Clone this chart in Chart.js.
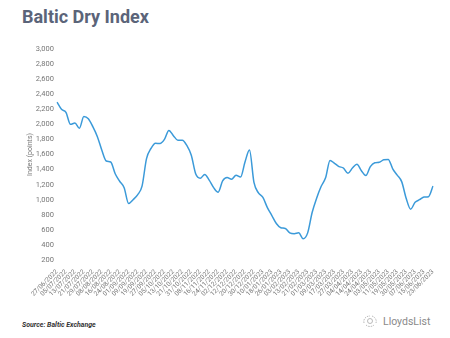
<!DOCTYPE html>
<html>
<head>
<meta charset="utf-8">
<script src="https://cdn.jsdelivr.net/npm/chart.js@4.4.0/dist/chart.umd.min.js"></script>
<style>
  body { margin: 0; width: 450px; height: 338px; background: #fff; position: relative; overflow: hidden; font-family: Roboto, sans-serif; }
  #title { position: absolute; left: 22px; top: 8px; font-size: 18px; line-height: 18px; font-weight: bold; color: #5b6479; }
  #wrap { position: absolute; left: 0; top: 40px; width: 450px; height: 270px; }
  #source { position: absolute; left: 22px; top: 321px; font-size: 7px; line-height: 8px; font-style: italic; font-weight: bold; color: #333; }
  #logo { position: absolute; left: 362px; top: 313px; height: 16px; display: flex; align-items: center; color: #8a8a8a; font-size: 10.5px; }
  #logo svg { margin-right: 5px; }
</style>
</head>
<body>
<div id="title">Baltic Dry Index</div>
<div id="wrap"><canvas id="myChart"></canvas></div>
<div id="source">Source: Baltic Exchange</div>
<div id="logo">
  <svg width="16" height="14" viewBox="0 0 16 14"><path d="M2 9 C1 5 4 2 8 2 M10 2 C13 3 15 6 14 9 M4 11 C6 13 10 13 12 11" fill="none" stroke="#aaa" stroke-width="0.8" stroke-dasharray="1.5 1"/><circle cx="8" cy="7" r="2.5" fill="none" stroke="#aaa" stroke-width="0.8"/></svg>
  <span>LloydsList</span>
</div>
<script>
// sampled every third trading day
var dates = ['27/06/2022', '30/06/2022', '05/07/2022', '08/07/2022', '13/07/2022', '18/07/2022', '21/07/2022', '26/07/2022', '29/07/2022', '03/08/2022',
  '08/08/2022', '11/08/2022', '16/08/2022', '19/08/2022', '24/08/2022', '29/08/2022', '01/09/2022', '06/09/2022', '09/09/2022', '14/09/2022',
  '19/09/2022', '22/09/2022', '27/09/2022', '30/09/2022', '05/10/2022', '10/10/2022', '13/10/2022', '18/10/2022', '21/10/2022', '26/10/2022',
  '31/10/2022', '03/11/2022', '08/11/2022', '11/11/2022', '16/11/2022', '21/11/2022', '24/11/2022', '29/11/2022', '02/12/2022', '07/12/2022',
  '12/12/2022', '15/12/2022', '20/12/2022', '23/12/2022', '30/12/2022', '05/01/2023', '10/01/2023', '13/01/2023', '18/01/2023', '23/01/2023',
  '26/01/2023', '31/01/2023', '03/02/2023', '08/02/2023', '13/02/2023', '16/02/2023', '21/02/2023', '24/02/2023', '01/03/2023', '06/03/2023',
  '09/03/2023', '14/03/2023', '17/03/2023', '22/03/2023', '27/03/2023', '30/03/2023', '04/04/2023', '11/04/2023', '14/04/2023', '19/04/2023',
  '24/04/2023', '27/04/2023', '03/05/2023', '08/05/2023', '11/05/2023', '16/05/2023', '19/05/2023', '24/05/2023', '30/05/2023', '02/06/2023',
  '07/06/2023', '12/06/2023', '15/06/2023', '20/06/2023', '23/06/2023'];

var bdi = [2295, 2200, 2160, 2000, 2017, 1948, 2105, 2075, 1970, 1840,
  1660, 1514, 1500, 1345, 1245, 1160, 950, 1000, 1065, 1180,
  1545, 1680, 1750, 1745, 1800, 1920, 1850, 1790, 1790, 1720,
  1590, 1340, 1285, 1335, 1260, 1160, 1100, 1250, 1295, 1270,
  1325, 1300, 1500, 1660, 1230, 1090, 1030, 895, 790, 685,
  628, 618, 560, 548, 560, 482, 560, 830, 1020, 1175,
  1290, 1520, 1483, 1440, 1420, 1350, 1420, 1470, 1385, 1320,
  1440, 1490, 1497, 1530, 1535, 1410, 1327, 1240, 1020, 875,
  965, 1000, 1035, 1040, 1181];

var yMin = 200;
var yMax = 3000;
var yStep = 200;

var ctx = document.getElementById('myChart').getContext('2d');
var myChart = new Chart(ctx, {
  type: 'line',
  data: {
    labels: dates,
    datasets: [{
      label: 'Baltic Dry Index',
      data: bdi,
      borderColor: '#3b9ad9',
      borderWidth: 1.5,
      pointRadius: 0,
      fill: false,
      cubicInterpolationMode: 'monotone'
    }]
  },
  options: {
    responsive: true,
    maintainAspectRatio: false,
    animation: false,
    layout: { padding: { top: 9, left: 26, right: 17, bottom: 0 } },
    plugins: { legend: { display: false }, tooltip: { enabled: false } },
    scales: {
      x: {
        grid: { display: false },
        border: { display: false },
        afterFit: function (scale) { scale.height = 50; },
        ticks: {
          autoSkip: false,
          maxRotation: 45,
          minRotation: 45,
          padding: 0,
          color: '#777',
          font: { family: 'Roboto', size: 6.5 },
          callback: function (val, i) { return i % 2 === 0 ? dates[i] : null; }
        }
      },
      y: {
        min: yMin,
        max: yMax,
        grid: { display: false, drawTicks: false },
        border: { display: false },
        afterFit: function (scale) { scale.width = 31; },
        title: { display: true, text: 'Index (points)', color: '#777', font: { family: 'Roboto', size: 7 }, padding: 0 },
        ticks: {
          stepSize: yStep,
          padding: 3,
          color: '#777',
          font: { family: 'Roboto', size: 7.5 },
          callback: function (v) { return v.toLocaleString('en-US'); }
        }
      }
    }
  }
});
</script>
</body>
</html>
